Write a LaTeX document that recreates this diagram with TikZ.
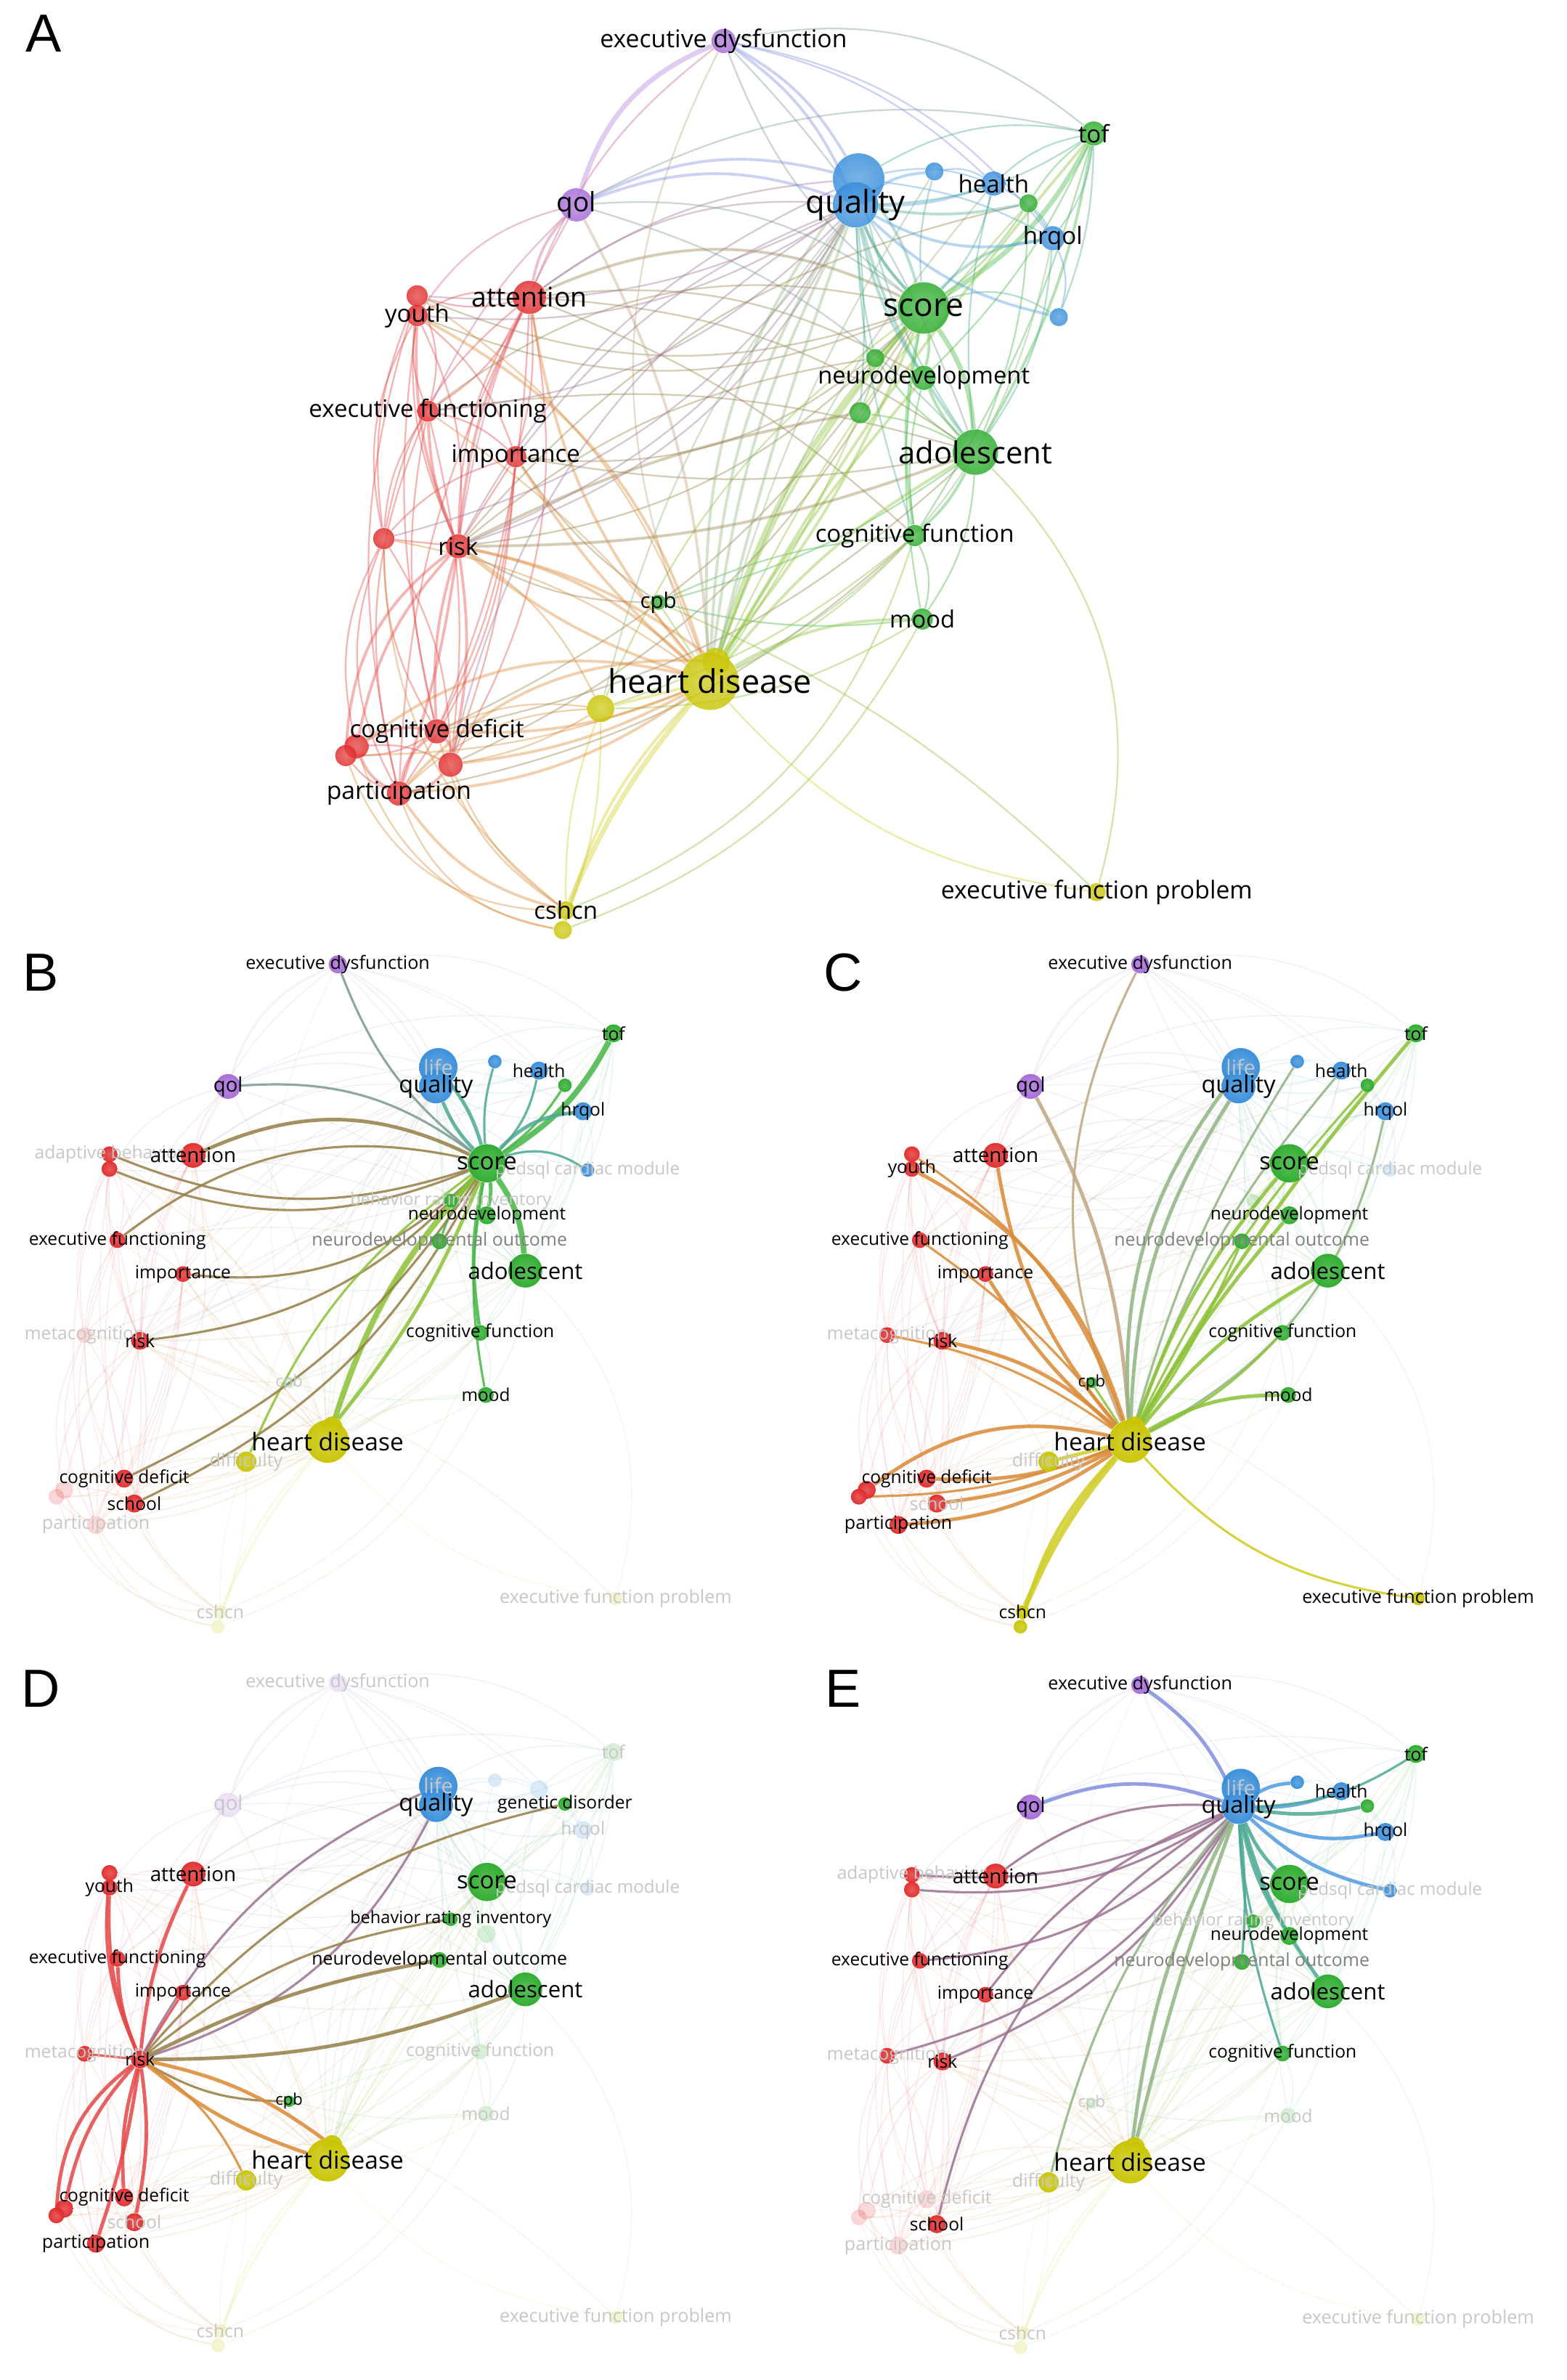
\documentclass[tikz,border=0pt]{standalone}
\usepackage{fontspec}
\setmainfont{Open Sans}
\newfontfamily\letterfont{Liberation Sans}
\pgfdeclarelayer{paper}
\pgfdeclarelayer{edgesf}
\pgfdeclarelayer{edgesh}
\pgfsetlayers{paper,edgesf,edgesh,main}
\definecolor{cR}{RGB}{224,40,40}
\definecolor{cG}{RGB}{40,170,40}
\definecolor{cB}{RGB}{52,140,218}
\definecolor{cY}{RGB}{200,196,0}
\definecolor{cP}{RGB}{164,104,216}
\tikzset{
  nd/.style={circle,inner sep=0pt,draw=none,fill opacity=0.95},
  ndA/.style={nd/.append style={fill opacity=0.82}},
  fdn/.style={fill opacity=0.2},
  lab/.style={inner sep=0pt},
  dk/.style={text=black},
  gy/.style={text=black!50},
  fd/.style={text=black!22},
  letter/.style={font=\letterfont\fontsize{21pt}{21pt}\selectfont, inner sep=0pt},
  emode/.style={}, w1/.style={}, w2/.style={}, w3/.style={},
  modeA/.style={emode/.style={opacity=0.4}, w1/.style={line width=0.65pt}, w2/.style={line width=1.1pt}, w3/.style={line width=1.9pt}},
  modeF/.style={emode/.style={opacity=0.1}, w1/.style={line width=0.45pt}, w2/.style={line width=0.65pt}, w3/.style={line width=1pt}},
  modeH/.style={emode/.style={opacity=0.85}, w1/.style={line width=0.9pt}, w2/.style={line width=1.4pt}, w3/.style={line width=2.2pt}},
}
\def\pfx{A-}
\newcommand\E[5]{\draw[emode,#5,draw={#3!85!white}] (\pfx#1) to[#4] (\pfx#2);}
\newcommand\Nd[5]{\node[nd,minimum size=#4*1.1848pt,shade,inner color=#5!80!white,outer color=#5,st#1/.try] (\pfx#1) at (#2,#3) {};}
\newcommand\deflab[3]{\expandafter\def\csname LT#1\endcsname{#2}\expandafter\def\csname LF#1\endcsname{#3}}
\newcommand\Lb[2]{\node[lab,#2,font=\fontsize{\csname LF#1\endcsname pt}{\csname LF#1\endcsname pt}\selectfont] (\pfx#1-l) at (\pfx#1.center) {\csname LT#1\endcsname};}
\deflab{ed}{executive dysfunction}{9.6}
\deflab{qol}{qol}{10.5}
\deflab{qual}{quality}{12.4}
\deflab{life}{life}{11}
\deflab{hea}{health}{9.4}
\deflab{gd}{genetic disorder}{9.4}
\deflab{tof}{tof}{9.4}
\deflab{hrq}{hrqol}{9.4}
\deflab{ped}{pedsql cardiac module}{9.2}
\deflab{att}{attention}{10.6}
\deflab{ab}{adaptive behavior}{9.4}
\deflab{you}{youth}{9.4}
\deflab{sco}{score}{12.6}
\deflab{bri}{behavior rating inventory}{9.0}
\deflab{neu}{neurodevelopment}{9.3}
\deflab{ndo}{neurodevelopmental outcome}{9.5}
\deflab{ado}{adolescent}{11.9}
\deflab{efn}{executive functioning}{9.4}
\deflab{imp}{importance}{9.4}
\deflab{met}{metacognition}{9.4}
\deflab{risk}{risk}{9.4}
\deflab{cf}{cognitive function}{9.4}
\deflab{cpb}{cpb}{8.4}
\deflab{mood}{mood}{9.3}
\deflab{hd}{heart disease}{12.8}
\deflab{dif}{difficulty}{9.6}
\deflab{cd}{cognitive deficit}{9.4}
\deflab{sch}{school}{9.4}
\deflab{par}{participation}{9.6}
\deflab{csh}{cshcn}{9.4}
\deflab{efp}{executive function problem}{9.6}
\newcommand\allnodes{%
\Nd{ed}{477}{27}{8}{cP}
\Nd{qol}{380}{135}{11}{cP}
\Nd{life}{566}{118}{17}{cB}
\Nd{qual}{564}{135}{15}{cB}
\Nd{sb}{616}{113}{6}{cB}
\Nd{hea}{655}{121}{8}{cB}
\Nd{gd}{678}{134}{6}{cG}
\Nd{tof}{721}{88}{8}{cG}
\Nd{hrq}{694}{157}{8}{cB}
\Nd{ped}{698}{209}{6}{cB}
\Nd{att}{349}{196}{11}{cR}
\Nd{ab}{275}{195}{7}{cR}
\Nd{you}{275}{208}{7}{cR}
\Nd{sco}{609}{203}{17}{cG}
\Nd{bri}{577}{236}{6}{cG}
\Nd{neu}{609}{249}{8}{cG}
\Nd{ndo}{567}{272}{7}{cG}
\Nd{ado}{643}{298}{15}{cG}
\Nd{efn}{282}{271}{7}{cR}
\Nd{imp}{340}{301}{7}{cR}
\Nd{met}{253}{355}{7}{cR}
\Nd{risk}{302}{360}{8}{cR}
\Nd{cf}{603}{353}{7}{cG}
\Nd{cpb}{434}{397}{5}{cG}
\Nd{mood}{608}{408}{7}{cG}
\Nd{hd2}{472}{436}{9}{cY}
\Nd{hd}{468}{449}{19}{cY}
\Nd{dif}{396}{467}{9}{cY}
\Nd{cd}{288}{482}{8}{cR}
\Nd{ra}{235}{492}{8}{cR}
\Nd{rb}{228}{498}{7}{cR}
\Nd{sch}{297}{504}{8}{cR}
\Nd{par}{263}{523}{8}{cR}
\Nd{csh}{373}{600}{6}{cY}
\Nd{cs2}{371}{613}{6}{cY}
\Nd{efp}{723}{588}{6}{cY}}
\newcommand\edgesScore{%
\E{sco}{ed}{cG!50!cP}{bend left=15}{w1}
\E{sco}{qol}{cG!50!cP}{bend right=20}{w1}
\E{sco}{life}{cG!50!cB}{bend right=10}{w2}
\E{sco}{qual}{cG!50!cB}{bend left=10}{w2}
\E{sco}{sb}{cG!50!cB}{bend left=10}{w1}
\E{sco}{hea}{cG!50!cB}{bend right=15}{w1}
\E{sco}{gd}{cG}{bend right=10}{w1}
\E{sco}{tof}{cG}{bend right=15}{w3}
\E{sco}{hrq}{cG!50!cB}{bend left=20}{w2}
\E{sco}{ped}{cG!50!cB}{bend left=25}{w1}
\E{sco}{att}{cG!50!cR}{bend right=25}{w2}
\E{sco}{ab}{cG!50!cR}{bend left=20}{w1}
\E{sco}{you}{cG!50!cR}{bend left=22}{w1}
\E{sco}{efn}{cG!50!cR}{bend right=25}{w1}
\E{sco}{imp}{cG!50!cR}{bend left=25}{w1}
\E{sco}{risk}{cG!50!cR}{bend left=20}{w1}
\E{sco}{bri}{cG}{}{w1}
\E{sco}{neu}{cG}{bend left=10}{w2}
\E{sco}{ndo}{cG}{bend right=10}{w1}
\E{sco}{ado}{cG}{bend left=15}{w3}
\E{sco}{cf}{cG}{bend right=10}{w2}
\E{sco}{mood}{cG}{bend right=10}{w1}
\E{sco}{hd}{cG!50!cY}{bend right=12}{w3}
\E{sco}{hd2}{cG!50!cY}{bend left=8}{w2}
\E{sco}{dif}{cG!50!cY}{bend right=15}{w1}
\E{sco}{cd}{cG!50!cR}{bend left=15}{w1}
\E{sco}{sch}{cG!50!cR}{bend left=18}{w1}}
\newcommand\edgesHD{%
\E{hd}{ed}{cY!50!cP}{bend left=25}{w1}
\E{hd}{qol}{cY!50!cP}{bend right=12}{w2}
\E{hd}{life}{cY!50!cB}{bend left=20}{w2}
\E{hd}{qual}{cY!50!cB}{bend left=15}{w2}
\E{hd}{sb}{cY!50!cB}{bend left=8}{w1}
\E{hd}{hea}{cY!50!cB}{bend left=10}{w1}
\E{hd}{gd}{cY!50!cG}{bend left=8}{w1}
\E{hd}{tof}{cY!50!cG}{bend left=5}{w2}
\E{hd}{hrq}{cY!50!cB}{bend right=25}{w1}
\E{hd}{sco}{cY!50!cG}{bend left=10}{w2}
\E{hd}{neu}{cY!50!cG}{bend left=5}{w2}
\E{hd}{ndo}{cY!50!cG}{bend right=5}{w1}
\E{hd}{ado}{cY!50!cG}{bend left=10}{w2}
\E{hd}{cf}{cY!50!cG}{bend right=10}{w1}
\E{hd}{mood}{cY!50!cG}{bend left=15}{w2}
\E{hd}{cpb}{cY!50!cG}{}{w1}
\E{hd}{ab}{cY!50!cR}{bend right=18}{w1}
\E{hd}{you}{cY!50!cR}{bend right=22}{w2}
\E{hd}{att}{cY!50!cR}{bend left=15}{w2}
\E{hd}{efn}{cY!50!cR}{bend right=8}{w1}
\E{hd}{imp}{cY!50!cR}{bend left=8}{w2}
\E{hd}{risk}{cY!50!cR}{bend right=15}{w2}
\E{hd}{met}{cY!50!cR}{bend right=12}{w1}
\E{hd}{cd}{cY!50!cR}{bend left=12}{w2}
\E{hd}{ra}{cY!50!cR}{bend right=25}{w2}
\E{hd}{rb}{cY!50!cR}{bend left=10}{w1}
\E{hd}{sch}{cY!50!cR}{bend left=10}{w2}
\E{hd}{par}{cY!50!cR}{bend left=15}{w2}
\E{hd}{dif}{cY}{}{w2}
\E{hd}{csh}{cY}{bend right=8}{w3}
\E{hd}{cs2}{cY}{bend right=14}{w2}
\E{hd}{efp}{cY}{bend right=20}{w1}}
\newcommand\edgesRisk{%
\E{risk}{ab}{cR}{bend left=15}{w1}
\E{risk}{you}{cR}{bend left=12}{w2}
\E{risk}{att}{cR}{bend left=10}{w2}
\E{risk}{efn}{cR}{bend left=10}{w2}
\E{risk}{imp}{cR}{}{w1}
\E{risk}{met}{cR}{}{w1}
\E{risk}{life}{cR!50!cB}{bend left=18}{w1}
\E{risk}{qual}{cR!50!cB}{bend right=22}{w1}
\E{risk}{gd}{cR!50!cG}{bend left=18}{w1}
\E{risk}{bri}{cR!50!cG}{bend left=15}{w1}
\E{risk}{ndo}{cR!50!cG}{bend left=8}{w2}
\E{risk}{ado}{cR!50!cG}{bend right=10}{w2}
\E{risk}{cpb}{cR!50!cG}{bend right=15}{w1}
\E{risk}{hd}{cR!50!cY}{bend right=10}{w2}
\E{risk}{hd2}{cR!50!cY}{bend left=12}{w2}
\E{risk}{dif}{cR!50!cY}{bend left=15}{w1}
\E{risk}{cd}{cR}{bend right=10}{w2}
\E{risk}{ra}{cR}{bend right=15}{w2}
\E{risk}{rb}{cR}{bend right=25}{w2}
\E{risk}{sch}{cR}{bend left=10}{w2}
\E{risk}{par}{cR}{bend left=5}{w2}}
\newcommand\edgesQual{%
\E{qual}{ed}{cB!50!cP}{bend right=15}{w2}
\E{qual}{qol}{cB!50!cP}{bend right=20}{w2}
\E{qual}{sb}{cB}{bend left=15}{w2}
\E{qual}{hea}{cB}{bend right=10}{w2}
\E{qual}{gd}{cB!50!cG}{bend right=10}{w2}
\E{qual}{tof}{cB!50!cG}{bend right=15}{w1}
\E{qual}{hrq}{cB}{bend right=20}{w2}
\E{qual}{ped}{cB}{bend right=15}{w2}
\E{qual}{att}{cB!50!cR}{bend right=20}{w1}
\E{qual}{ab}{cB!50!cR}{bend left=15}{w1}
\E{qual}{you}{cB!50!cR}{bend left=18}{w1}
\E{qual}{efn}{cB!50!cR}{bend left=20}{w1}
\E{qual}{imp}{cB!50!cR}{bend right=15}{w1}
\E{qual}{met}{cB!50!cR}{bend left=20}{w1}
\E{qual}{risk}{cB!50!cR}{bend left=18}{w1}
\E{qual}{sch}{cB!50!cR}{bend right=22}{w1}
\E{qual}{sco}{cB!50!cG}{bend right=10}{w2}
\E{qual}{bri}{cB!50!cG}{bend right=5}{w1}
\E{qual}{neu}{cB!50!cG}{bend right=10}{w2}
\E{qual}{ndo}{cB!50!cG}{bend left=5}{w1}
\E{qual}{ado}{cB!50!cG}{bend right=10}{w2}
\E{qual}{cf}{cB!50!cG}{bend right=8}{w1}
\E{qual}{hd}{cB!50!cY}{bend right=10}{w2}
\E{qual}{hd2}{cB!50!cY}{bend right=3}{w2}
\E{qual}{dif}{cB!50!cY}{bend right=12}{w1}}
\newcommand\edgesOther{%
\E{att}{you}{cR}{bend right=20}{w1}
\E{att}{ab}{cR}{bend left=15}{w1}
\E{att}{efn}{cR}{bend left=15}{w1}
\E{att}{imp}{cR}{bend left=10}{w1}
\E{att}{risk}{cR}{bend right=15}{w1}
\E{att}{met}{cR}{bend right=20}{w1}
\E{att}{cd}{cR}{bend left=10}{w1}
\E{att}{par}{cR}{bend right=12}{w1}
\E{att}{sch}{cR}{bend left=20}{w1}
\E{you}{efn}{cR}{bend right=15}{w1}
\E{you}{met}{cR}{bend right=20}{w1}
\E{you}{risk}{cR}{bend left=15}{w1}
\E{you}{cd}{cR}{bend right=10}{w1}
\E{you}{imp}{cR}{bend left=15}{w1}
\E{ab}{efn}{cR}{bend left=20}{w1}
\E{ab}{met}{cR}{bend right=15}{w1}
\E{ab}{par}{cR}{bend right=15}{w1}
\E{efn}{imp}{cR}{bend left=15}{w1}
\E{efn}{met}{cR}{bend right=15}{w1}
\E{efn}{cd}{cR}{bend right=12}{w1}
\E{efn}{par}{cR}{bend right=18}{w1}
\E{efn}{sch}{cR}{bend left=10}{w1}
\E{imp}{cd}{cR}{bend left=10}{w1}
\E{imp}{sch}{cR}{bend left=8}{w1}
\E{imp}{met}{cR}{bend right=15}{w1}
\E{imp}{par}{cR}{bend left=15}{w1}
\E{met}{cd}{cR}{bend right=15}{w1}
\E{met}{ra}{cR}{bend right=20}{w1}
\E{met}{par}{cR}{bend right=25}{w1}
\E{met}{sch}{cR}{bend left=15}{w1}
\E{cd}{ra}{cR}{bend right=20}{w2}
\E{cd}{rb}{cR}{bend left=15}{w1}
\E{cd}{sch}{cR}{bend left=25}{w2}
\E{cd}{par}{cR}{bend right=20}{w2}
\E{ra}{rb}{cR}{}{w1}
\E{ra}{par}{cR}{bend right=20}{w2}
\E{rb}{par}{cR}{bend right=15}{w1}
\E{sch}{par}{cR}{bend left=20}{w2}
\E{ra}{sch}{cR}{bend left=15}{w1}
\E{par}{csh}{cR!50!cY}{bend right=20}{w2}
\E{par}{cs2}{cR!50!cY}{bend right=30}{w1}
\E{sch}{csh}{cR!50!cY}{bend right=15}{w1}
\E{cd}{csh}{cR!50!cY}{bend right=20}{w1}
\E{ra}{cs2}{cR!50!cY}{bend right=30}{w1}
\E{rb}{csh}{cR!50!cY}{bend right=35}{w1}
\E{met}{csh}{cR!50!cY}{bend right=25}{w1}
\E{par}{dif}{cR!50!cY}{bend left=20}{w1}
\E{cd}{dif}{cR!50!cY}{bend left=15}{w1}
\E{sch}{dif}{cR!50!cY}{bend right=10}{w1}
\E{par}{hd2}{cR!50!cY}{bend left=25}{w2}
\E{ed}{qol}{cP}{bend right=25}{w3}
\E{ed}{tof}{cP!50!cG}{bend left=25}{w1}
\E{ed}{hea}{cP!50!cB}{bend left=15}{w1}
\E{ed}{hrq}{cP!50!cB}{bend left=20}{w1}
\E{ed}{att}{cP!50!cR}{bend right=15}{w1}
\E{ed}{ado}{cP!50!cG}{bend left=12}{w1}
\E{ed}{life}{cP!50!cB}{bend left=15}{w2}
\E{qol}{att}{cP!50!cR}{bend right=15}{w2}
\E{qol}{you}{cP!50!cR}{bend right=20}{w1}
\E{qol}{efn}{cP!50!cR}{bend right=10}{w1}
\E{qol}{ado}{cP!50!cG}{bend left=15}{w1}
\E{qol}{life}{cP!50!cB}{bend left=20}{w2}
\E{qol}{tof}{cP!50!cG}{bend left=20}{w1}
\E{qol}{risk}{cP!50!cR}{bend right=10}{w1}
\E{tof}{ado}{cG}{bend left=10}{w2}
\E{tof}{hrq}{cG!50!cB}{bend left=15}{w1}
\E{tof}{hea}{cG!50!cB}{bend right=15}{w1}
\E{tof}{gd}{cG}{bend right=10}{w1}
\E{tof}{neu}{cG}{bend left=10}{w1}
\E{tof}{cf}{cG}{bend left=8}{w1}
\E{tof}{life}{cG!50!cB}{bend right=20}{w1}
\E{tof}{ped}{cG!50!cB}{bend left=10}{w1}
\E{ado}{cf}{cG}{bend left=10}{w2}
\E{ado}{mood}{cG}{bend left=15}{w1}
\E{cf}{mood}{cG}{bend left=20}{w1}
\E{neu}{ado}{cG}{bend right=10}{w2}
\E{neu}{cf}{cG}{bend right=10}{w1}
\E{ado}{hrq}{cG!50!cB}{bend right=15}{w1}
\E{ado}{gd}{cG}{bend right=10}{w1}
\E{ado}{efp}{cG!50!cY}{bend left=30}{w1}
\E{ado}{cpb}{cG}{bend left=10}{w1}
\E{ado}{ndo}{cG}{bend right=10}{w1}
\E{ado}{bri}{cG}{bend left=10}{w1}
\E{cpb}{cf}{cG}{bend left=10}{w1}
\E{cpb}{mood}{cG}{bend right=10}{w1}
\E{mood}{dif}{cG!50!cY}{bend left=15}{w1}
\E{cf}{dif}{cG!50!cY}{bend left=10}{w1}
\E{hrq}{ped}{cB}{bend left=20}{w1}
\E{hea}{hrq}{cB}{bend left=15}{w1}
\E{sb}{hea}{cB}{bend left=20}{w1}
\E{gd}{hrq}{cG!50!cB}{bend left=10}{w1}
\E{life}{hea}{cB}{bend left=15}{w1}
\E{life}{hrq}{cB}{bend left=10}{w1}
\E{life}{ado}{cB!50!cG}{bend right=10}{w1}
\E{life}{att}{cB!50!cR}{bend right=15}{w1}
\E{hea}{ado}{cB!50!cG}{bend right=10}{w1}
\E{csh}{cs2}{cY}{}{w1}
\E{dif}{csh}{cY}{bend right=10}{w1}
\E{dif}{cs2}{cY}{bend left=10}{w1}
\E{csh}{cf}{cY!50!cG}{bend right=25}{w1}
\E{cs2}{mood}{cY!50!cG}{bend right=20}{w1}
\E{efp}{cpb}{cY!50!cG}{bend right=10}{w1}
\E{att}{ado}{cR!50!cG}{bend left=15}{w1}
\E{att}{cf}{cR!50!cG}{bend left=10}{w1}
\E{att}{neu}{cR!50!cG}{bend left=18}{w1}
\E{efn}{ado}{cR!50!cG}{bend left=12}{w1}
\E{imp}{ado}{cR!50!cG}{bend right=10}{w1}
\E{imp}{cpb}{cR!50!cG}{bend right=10}{w1}
\E{cd}{ado}{cR!50!cG}{bend right=15}{w1}
\E{par}{cf}{cR!50!cG}{bend right=15}{w1}}
\newcommand\alledges{\edgesOther\edgesScore\edgesHD\edgesRisk\edgesQual}
\begin{document}
\begin{tikzpicture}[x=0.2089mm,y=-0.2089mm]
\begin{pgfonlayer}{paper}
\fill[white] (0,0) rectangle (1033.03,1568.7);
\end{pgfonlayer}
\useasboundingbox (0,0) rectangle (1033.03,1568.7);
% ---------------- Panel A
\def\pfx{A-}
\begin{scope}[ndA]
\allnodes
\begin{pgfonlayer}{edgesf}\begin{scope}[modeA]\alledges\end{scope}\end{pgfonlayer}
\Lb{ed}{dk}\Lb{qol}{dk}\Lb{qual}{dk}\Lb{hea}{dk}\Lb{tof}{dk}\Lb{hrq}{dk}
\Lb{att}{dk}\Lb{you}{dk}\Lb{sco}{dk}\Lb{neu}{dk}\Lb{efn}{dk}\Lb{imp}{dk}
\Lb{ado}{dk}\Lb{risk}{dk}\Lb{cf}{dk}\Lb{cpb}{dk}\Lb{mood}{dk}\Lb{hd}{dk}
\Lb{cd}{dk}\Lb{par}{dk}\Lb{csh}{dk}\Lb{efp}{dk}
\end{scope}
% ---------------- Panel B
\def\pfx{B-}
\begin{scope}[shift={(-132.7,615.5)},scale=0.745,transform shape,
  stmet/.style=fdn,stcpb/.style=fdn,stra/.style=fdn,strb/.style=fdn,
  stpar/.style=fdn,stcsh/.style=fdn,stcs2/.style=fdn,stefp/.style=fdn]
\allnodes
\begin{pgfonlayer}{edgesf}\begin{scope}[modeF]\alledges\end{scope}\end{pgfonlayer}
\begin{pgfonlayer}{edgesh}\begin{scope}[modeH]\edgesScore\end{scope}\end{pgfonlayer}
\Lb{ab}{fd}\Lb{ped}{fd}\Lb{met}{fd}\Lb{cpb}{fd}\Lb{dif}{fd}\Lb{par}{fd}
\Lb{csh}{fd}\Lb{efp}{fd}\Lb{life}{fd}\Lb{bri}{fd}\Lb{ndo}{gy}
\Lb{ed}{dk}\Lb{qol}{dk}\Lb{qual}{dk}\Lb{hea}{dk}\Lb{tof}{dk}\Lb{hrq}{dk}
\Lb{att}{dk}\Lb{sco}{dk}\Lb{neu}{dk}\Lb{efn}{dk}\Lb{imp}{dk}\Lb{ado}{dk}
\Lb{risk}{dk}\Lb{cf}{dk}\Lb{mood}{dk}\Lb{hd}{dk}\Lb{cd}{dk}\Lb{sch}{dk}
\end{scope}
% ---------------- Panel C
\def\pfx{C-}
\begin{scope}[shift={(396.3,615.5)},scale=0.745,transform shape,
  stped/.style=fdn,stbri/.style=fdn]
\allnodes
\begin{pgfonlayer}{edgesf}\begin{scope}[modeF]\alledges\end{scope}\end{pgfonlayer}
\begin{pgfonlayer}{edgesh}\begin{scope}[modeH]\edgesHD\end{scope}\end{pgfonlayer}
\Lb{life}{fd}\Lb{ped}{fd}\Lb{met}{fd}\Lb{dif}{fd}\Lb{sch}{fd}\Lb{ndo}{gy}
\Lb{ed}{dk}\Lb{qol}{dk}\Lb{qual}{dk}\Lb{hea}{dk}\Lb{tof}{dk}\Lb{hrq}{dk}
\Lb{you}{dk}\Lb{att}{dk}\Lb{sco}{dk}\Lb{neu}{dk}\Lb{efn}{dk}\Lb{imp}{dk}
\Lb{ado}{dk}\Lb{risk}{dk}\Lb{cf}{dk}\Lb{cpb}{dk}\Lb{mood}{dk}\Lb{hd}{dk}
\Lb{cd}{dk}\Lb{par}{dk}\Lb{csh}{dk}\Lb{efp}{dk}
\end{scope}
% ---------------- Panel D
\def\pfx{D-}
\begin{scope}[shift={(-132.7,1089.2)},scale=0.745,transform shape,
  sted/.style=fdn,stqol/.style=fdn,stsb/.style=fdn,sthea/.style=fdn,sttof/.style=fdn,
  sthrq/.style=fdn,stped/.style=fdn,stcf/.style=fdn,stmood/.style=fdn,stneu/.style=fdn,
  stcsh/.style=fdn,stcs2/.style=fdn,stefp/.style=fdn]
\allnodes
\begin{pgfonlayer}{edgesf}\begin{scope}[modeF]\alledges\end{scope}\end{pgfonlayer}
\begin{pgfonlayer}{edgesh}\begin{scope}[modeH]\edgesRisk\end{scope}\end{pgfonlayer}
\Lb{ed}{fd}\Lb{qol}{fd}\Lb{tof}{fd}\Lb{hrq}{fd}\Lb{ped}{fd}\Lb{met}{fd}
\Lb{cf}{fd}\Lb{mood}{fd}\Lb{dif}{fd}\Lb{sch}{fd}\Lb{csh}{fd}\Lb{efp}{fd}\Lb{life}{fd}
\Lb{you}{dk}\Lb{att}{dk}\Lb{efn}{dk}\Lb{imp}{dk}\Lb{risk}{dk}\Lb{qual}{dk}
\Lb{gd}{dk}\Lb{sco}{dk}\Lb{bri}{dk}\Lb{ndo}{dk}\Lb{ado}{dk}\Lb{cpb}{dk}
\Lb{hd}{dk}\Lb{cd}{dk}\Lb{par}{dk}
\end{scope}
% ---------------- Panel E
\def\pfx{E-}
\begin{scope}[shift={(396.3,1090.5)},scale=0.745,transform shape,
  stcpb/.style=fdn,stmood/.style=fdn,stcd/.style=fdn,stra/.style=fdn,strb/.style=fdn,
  stpar/.style=fdn,stcsh/.style=fdn,stcs2/.style=fdn,stefp/.style=fdn]
\allnodes
\begin{pgfonlayer}{edgesf}\begin{scope}[modeF]\alledges\end{scope}\end{pgfonlayer}
\begin{pgfonlayer}{edgesh}\begin{scope}[modeH]\edgesQual\end{scope}\end{pgfonlayer}
\Lb{ab}{fd}\Lb{ped}{fd}\Lb{met}{fd}\Lb{cpb}{fd}\Lb{mood}{fd}\Lb{dif}{fd}
\Lb{cd}{fd}\Lb{par}{fd}\Lb{csh}{fd}\Lb{efp}{fd}\Lb{life}{fd}\Lb{bri}{fd}\Lb{ndo}{gy}
\Lb{ed}{dk}\Lb{qol}{dk}\Lb{qual}{dk}\Lb{hea}{dk}\Lb{tof}{dk}\Lb{hrq}{dk}
\Lb{att}{dk}\Lb{sco}{dk}\Lb{neu}{dk}\Lb{efn}{dk}\Lb{imp}{dk}\Lb{ado}{dk}
\Lb{risk}{dk}\Lb{cf}{dk}\Lb{hd}{dk}\Lb{sch}{dk}
\end{scope}
% ---------------- Panel letters
\node[letter] (letA) at (29,22) {A};
\node[letter] (letB) at (27,641) {B};
\node[letter] (letC) at (556,641) {C};
\node[letter] (letD) at (27,1113) {D};
\node[letter] (letE) at (556,1113) {E};
\end{tikzpicture}
\end{document}
